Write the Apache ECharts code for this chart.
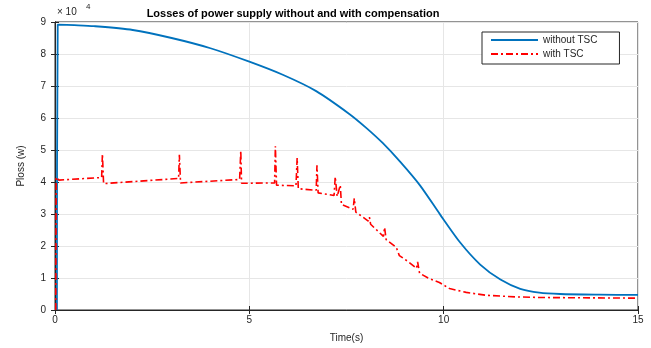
<!DOCTYPE html>
<html>
<head>
<meta charset="utf-8">
<script src="https://cdn.jsdelivr.net/npm/echarts@6/dist/echarts.min.js"></script>
<style>
  html, body { margin: 0; padding: 0; background: #fff; }
  #chart { width: 651px; height: 348px; }
</style>
</head>
<body>
<div id="chart"></div>
<script>
// values in units of 1e4 W (axis shows "x10^4")
const tWithout = [0.05, 0.07, 0.5, 1, 2, 3, 4, 5, 5.86, 6.72, 7.58, 8.0, 8.43, 8.89, 9.4, 9.91, 10.43, 10.94, 11.46, 11.97, 12.46, 13, 14, 15];
const pWithout = [0, 8.92, 8.9, 8.87, 8.75, 8.5, 8.18, 7.76, 7.35, 6.84, 6.12, 5.7, 5.22, 4.62, 3.88, 2.98, 2.1, 1.42, 0.95, 0.66, 0.54, 0.5, 0.48, 0.47];

const tWith = [0.02, 0.03, 0.1, 1.2, 1.22, 1.25, 3.18, 3.2, 3.23, 4.75, 4.78, 4.8, 5.65, 5.67, 5.7, 6.2, 6.23, 6.26,
  6.72, 6.74, 6.77, 7.18, 7.21, 7.26, 7.34, 7.37, 7.67, 7.7, 7.74, 8.06, 8.09, 8.12, 8.45, 8.48, 8.52, 8.78, 8.8, 8.86,
  9.1, 9.3, 9.33, 9.38, 9.6, 9.89, 10.15, 10.58, 11.09, 11.86, 12.5, 15];
const pWith = [0, 4.15, 4.06, 4.14, 4.88, 3.95, 4.11, 4.85, 3.97, 4.08, 4.98, 3.96, 3.97, 5.12, 3.9, 3.88, 4.75, 3.79,
  3.74, 4.52, 3.66, 3.58, 4.16, 3.55, 3.9, 3.3, 3.15, 3.49, 3.06, 2.78, 2.9, 2.68, 2.3, 2.58, 2.2, 1.96, 1.99, 1.7,
  1.5, 1.3, 1.5, 1.15, 1.0, 0.86, 0.67, 0.55, 0.46, 0.41, 0.39, 0.37];

const xTicks = [0, 5, 10, 15];
const yTicks = [0, 1, 2, 3, 4, 5, 6, 7, 8, 9];

const chart = echarts.init(document.getElementById('chart'));

const axisColor = '#262626';
const gridColor = '#e6e6e6';
const font = 'Liberation Sans, Arial, sans-serif';

const option = {
  animation: false,
  textStyle: { fontFamily: font },
  title: {
    text: 'Losses of power supply without and with compensation',
    left: 288,
    textAlign: 'center',
    top: 3,
    textStyle: { fontSize: 11, fontWeight: 'bold', color: '#000', fontFamily: font }
  },
  graphic: [
    { type: 'text', left: 57, top: 7, style: { text: '\u00d7 10', fontSize: 10, fill: axisColor, fontFamily: font } },
    { type: 'text', left: 86, top: 3, style: { text: '4', fontSize: 8, fill: axisColor, fontFamily: font } }
  ],
  legend: {
    orient: 'vertical',
    left: 482,
    top: 32,
    backgroundColor: '#fff',
    borderColor: axisColor,
    borderWidth: 1,
    borderRadius: 0,
    padding: [3, 22, 5, 8],
    itemWidth: 47,
    itemHeight: 10,
    itemGap: 4,
    itemStyle: { opacity: 0 },
    textStyle: { fontSize: 10, color: axisColor, fontFamily: font },
    data: ['without TSC', 'with TSC']
  },
  grid: {
    left: 55, right: 13, top: 22, bottom: 35,
    show: true, borderColor: axisColor, borderWidth: 1
  },
  xAxis: [{
    type: 'value',
    min: 0, max: 15, interval: 5,
    name: 'Time(s)',
    nameLocation: 'middle',
    nameGap: 23,
    nameTextStyle: { fontSize: 10, color: axisColor },
    axisLine: { lineStyle: { color: axisColor } },
    axisTick: { inside: true, length: 4, lineStyle: { color: axisColor } },
    axisLabel: { color: axisColor, fontSize: 10, margin: 5, formatter: v => xTicks.includes(v) ? String(v) : '' },
    splitLine: { show: true, lineStyle: { color: gridColor } }
  }, {
    type: 'value', position: 'top',
    min: 0, max: 15, interval: 5,
    axisLine: { show: true, lineStyle: { color: axisColor } },
    axisTick: { inside: true, length: 4, lineStyle: { color: axisColor } },
    axisLabel: { show: false },
    splitLine: { show: false }
  }],
  yAxis: [{
    type: 'value',
    min: 0, max: 9, interval: 1,
    name: 'Ploss (w)',
    nameLocation: 'middle',
    nameGap: 29,
    nameTextStyle: { fontSize: 10, color: axisColor },
    axisLine: { show: true, lineStyle: { color: axisColor } },
    axisTick: { show: true, inside: true, length: 4, lineStyle: { color: axisColor } },
    axisLabel: { color: axisColor, fontSize: 10, margin: 9, formatter: v => yTicks.includes(v) ? String(v) : '' },
    splitLine: { show: true, lineStyle: { color: gridColor } }
  }, {
    type: 'value', position: 'right',
    min: 0, max: 9, interval: 1,
    axisLine: { show: true, lineStyle: { color: axisColor } },
    axisTick: { show: true, inside: true, length: 4, lineStyle: { color: axisColor } },
    axisLabel: { show: false },
    splitLine: { show: false }
  }],
  series: [{
    name: 'without TSC',
    type: 'line',
    data: tWithout.map((t, i) => [t, pWithout[i]]),
    showSymbol: false,
    symbol: 'none',
    smooth: 0.25,
    color: '#0072BD',
    lineStyle: { width: 1.8, color: '#0072BD' },
    z: 3
  }, {
    name: 'with TSC',
    type: 'line',
    data: tWith.map((t, i) => [t, pWith[i]]),
    showSymbol: false,
    symbol: 'none',
    color: '#FF0000',
    lineStyle: { width: 1.6, color: '#FF0000', type: [7, 3, 2, 3] },
    z: 4
  }]
};

chart.setOption(option);
</script>
</body>
</html>
